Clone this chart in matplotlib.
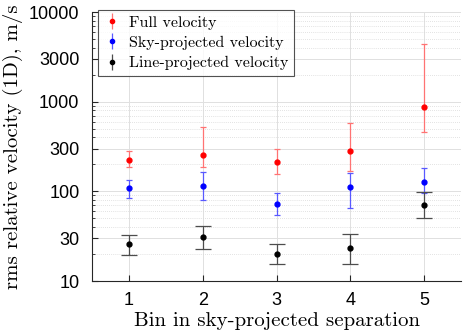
import matplotlib
matplotlib.use("Agg")
import matplotlib.pyplot as plt
import numpy as np
from matplotlib.ticker import FixedLocator, NullFormatter, LogLocator

bins = [1, 2, 3, 4, 5]
full_v = [223, 254, 214, 284, 863]
full_lo = [185, 187, 156, 170, 455]
full_hi = [281, 517, 294, 573, 4390]
sky_v = [109, 114, 72, 111, 126]
sky_lo = [84, 81, 54, 66, 96]
sky_hi = [133, 163, 95, 159, 180]
line_v = [25.8, 30.7, 20.1, 23.5, 71]
line_lo = [19.6, 22.7, 15.3, 15.3, 50]
line_hi = [33, 41.4, 26, 33.4, 99]
yticks = [10, 30, 100, 300, 1000, 3000, 10000]
labels = ["Full velocity", "Sky-projected velocity", "Line-projected velocity"]

serif = "cmr10"
plt.rcParams["axes.formatter.use_mathtext"] = True

fig = plt.figure(figsize=(4.63, 3.34), dpi=100)
ax = fig.add_axes([92/463, 1 - 281/334, (461-92)/463, (281-12)/334])

def err(v, lo, hi):
    v = np.array(v); return [v - np.array(lo), np.array(hi) - v]

h1 = ax.errorbar(bins, full_v, yerr=err(full_v, full_lo, full_hi), fmt="o", color="red",
                 ms=3.5, ecolor=(1, 0.45, 0.45), elinewidth=0.9, capsize=2.5, capthick=0.9, zorder=3)
h2 = ax.errorbar(bins, sky_v, yerr=err(sky_v, sky_lo, sky_hi), fmt="o", color="blue",
                 ms=3.5, ecolor=(0.35, 0.35, 1), elinewidth=0.9, capsize=2.5, capthick=0.9, zorder=3)
h3 = ax.errorbar(bins, line_v, yerr=err(line_v, line_lo, line_hi), fmt="o", color="black",
                 ms=3.5, ecolor=(0.3, 0.3, 0.3), elinewidth=0.9, capsize=6, capthick=0.9, zorder=3)
# legend proxies with small caps
p1 = ax.errorbar([], [], yerr=[], fmt="o", color="red", ms=3, ecolor=(1, 0.45, 0.45),
                 elinewidth=0.9, capsize=2, capthick=0.9)
p2 = ax.errorbar([], [], yerr=[], fmt="o", color="blue", ms=3, ecolor=(0.35, 0.35, 1),
                 elinewidth=0.9, capsize=2, capthick=0.9)
p3 = ax.errorbar([], [], yerr=[], fmt="o", color="black", ms=3, ecolor=(0.3, 0.3, 0.3),
                 elinewidth=0.9, capsize=2, capthick=0.9)

ax.set_yscale("log")
ax.set_ylim(10, 10000)
ax.set_xlim(0.5, 5.5)
ax.set_xticks(bins)
ax.set_xticklabels([str(b) for b in bins])
ax.yaxis.set_major_locator(FixedLocator(yticks))
ax.set_yticklabels([str(t) for t in yticks])
ax.yaxis.set_minor_locator(LogLocator(base=10, subs=np.arange(2, 10)))
ax.yaxis.set_minor_formatter(NullFormatter())

ax.grid(True, which="major", color=(0.88, 0.88, 0.88), lw=0.7, zorder=0)
ax.grid(True, which="minor", axis="y", color=(0.85, 0.85, 0.85), lw=0.6, ls=(0, (1, 1.5)), zorder=0)
ax.set_axisbelow(True)

for s in ["top", "right"]:
    ax.spines[s].set_visible(False)
for s in ["left", "bottom"]:
    ax.spines[s].set_color((0.15, 0.15, 0.15))
    ax.spines[s].set_linewidth(0.8)
ax.tick_params(which="both", direction="in", colors=(0.15, 0.15, 0.15), labelsize=13,
               labelcolor="black")
ax.tick_params(which="major", length=4)
ax.tick_params(which="minor", length=2)
ax.tick_params(axis="y", which="major", pad=9)
ax.tick_params(axis="x", which="major", pad=8)
for lab in ax.get_xticklabels() + ax.get_yticklabels():
    lab.set_fontfamily("Liberation Sans")

ax.set_xlabel("Bin in sky-projected separation", fontfamily=serif, fontsize=15, labelpad=2)
ax.set_ylabel("rms relative velocity (1D), m/s", fontfamily=serif, fontsize=15, labelpad=4)

leg = ax.legend([p1, p2, p3], labels, loc="upper left", prop={"family": serif, "size": 11.5},
                bbox_to_anchor=(98/463, 1 - 10/334), bbox_transform=fig.transFigure,
                frameon=True, fancybox=False, edgecolor=(0.15, 0.15, 0.15),
                borderaxespad=0, borderpad=0.35, handlelength=1.0, handletextpad=0.6,
                labelspacing=0.38)
leg.get_frame().set_linewidth(0.8)

fig.savefig("out.png", dpi=100)
